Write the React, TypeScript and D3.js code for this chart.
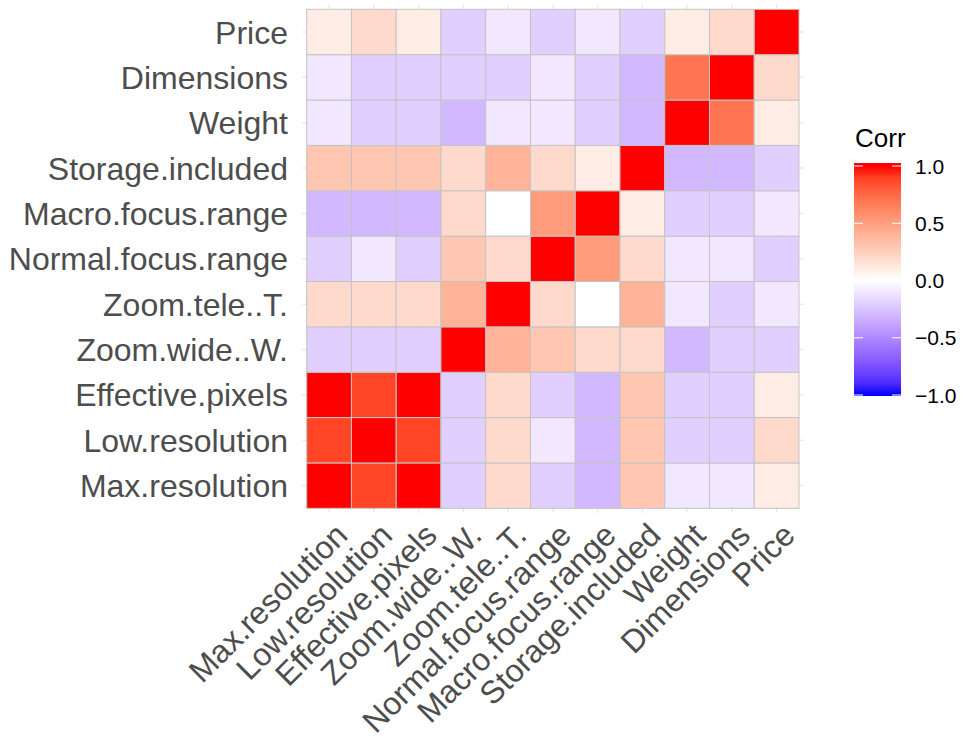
import React from "react";
import * as d3 from "d3";

const vars = [
  "Max.resolution",
  "Low.resolution",
  "Effective.pixels",
  "Zoom.wide..W.",
  "Zoom.tele..T.",
  "Normal.focus.range",
  "Macro.focus.range",
  "Storage.included",
  "Weight",
  "Dimensions",
  "Price",
];

// Correlation rows in the same order as vars (columns in same order)
const rowMax = [1, 0.88, 1, -0.2, 0.2, -0.2, -0.3, 0.3, -0.1, -0.1, 0.1];
const rowLow = [0.88, 1, 0.88, -0.2, 0.2, -0.1, -0.3, 0.3, -0.2, -0.2, 0.2];
const rowEff = [1, 0.88, 1, -0.2, 0.2, -0.2, -0.3, 0.3, -0.2, -0.2, 0.1];
const rowZoomW = [-0.2, -0.2, -0.2, 1, 0.4, 0.3, 0.2, 0.2, -0.3, -0.2, -0.2];
const rowZoomT = [0.2, 0.2, 0.2, 0.4, 1, 0.2, 0, 0.4, -0.1, -0.2, -0.1];
const rowNormal = [-0.2, -0.1, -0.2, 0.3, 0.2, 1, 0.52, 0.2, -0.1, -0.1, -0.2];
const rowMacro = [-0.3, -0.3, -0.3, 0.2, 0, 0.52, 1, 0.1, -0.2, -0.2, -0.1];
const rowStorage = [0.3, 0.3, 0.3, 0.2, 0.4, 0.2, 0.1, 1, -0.3, -0.3, -0.2];
const rowWeight = [-0.1, -0.2, -0.2, -0.3, -0.1, -0.1, -0.2, -0.3, 1, 0.7, 0.1];
const rowDim = [-0.1, -0.2, -0.2, -0.2, -0.2, -0.1, -0.2, -0.3, 0.7, 1, 0.2];
const rowPrice = [0.1, 0.2, 0.1, -0.2, -0.1, -0.2, -0.1, -0.2, 0.1, 0.2, 1];

const matrix = [
  rowMax, rowLow, rowEff, rowZoomW, rowZoomT, rowNormal,
  rowMacro, rowStorage, rowWeight, rowDim, rowPrice,
];

const legendTicks = [1, 0.5, 0, -0.5, -1];

const W = 966;
const H = 740;
const FONT = "'Liberation Sans', Arial, Helvetica, sans-serif";

export default function App() {
  const tileLeft = 306.7;
  const tileRight = 799;
  const tileTop = 9.3;
  const tileBottom = 508.3;
  const cw = (tileRight - tileLeft) / vars.length;
  const ch = (tileBottom - tileTop) / vars.length;

  const x = d3.scaleBand<string>().domain(vars).range([tileLeft, tileRight]).padding(0);
  const y = d3.scaleBand<string>().domain(vars).range([tileBottom, tileTop]).padding(0);

  const color = (v: number) =>
    v >= 0
      ? d3.interpolateLab("#FFFFFF", "#FF0000")(v)
      : d3.interpolateLab("#FFFFFF", "#0000FF")(-v);

  const cells: { r: string; c: string; v: number }[] = [];
  matrix.forEach((row, i) =>
    row.forEach((v, j) => cells.push({ r: vars[i], c: vars[j], v }))
  );

  const ext = 0.1;
  const panelL = tileLeft - ext * cw;
  const panelR = tileRight + ext * cw;
  const panelT = tileTop - ext * ch;
  const panelB = tileBottom + ext * ch;

  // Legend
  const barX = 854;
  const barW = 47;
  const barTop = 163;
  const barBot = 396;
  const ly = d3.scaleLinear().domain([-1, 1]).range([395, 166]);
  const stops = d3.range(0, 1.0001, 0.05).map((t) => -1 + 2 * t);

  return (
    <svg width={W} height={H} style={{ display: "block", background: "#fff", position: "absolute", left: 0, top: 0 }} fontFamily={FONT}>
      <defs>
        <linearGradient id="lg" x1="0" y1="1" x2="0" y2="0">
          {stops.map((s) => (
            <stop key={s} offset={(ly(s) - barBot) / (barTop - barBot)} stopColor={color(s)} />
          ))}
        </linearGradient>
      </defs>
      {/* grid lines */}
      {vars.map((v) => (
        <line key={"gx" + v} x1={x(v)! + cw / 2} x2={x(v)! + cw / 2} y1={panelT} y2={panelB}
          stroke="#EBEBEB" strokeWidth={1.5} />
      ))}
      {vars.map((v) => (
        <line key={"gy" + v} y1={y(v)! + ch / 2} y2={y(v)! + ch / 2} x1={panelL} x2={panelR}
          stroke="#EBEBEB" strokeWidth={1.5} />
      ))}
      {/* tiles */}
      {cells.map((d) => (
        <rect key={d.r + "|" + d.c} x={x(d.c)} y={y(d.r)} width={cw} height={ch}
          fill={color(d.v)} stroke="#C4C4C4" strokeWidth={1} />
      ))}
      {/* y labels */}
      {vars.map((v) => (
        <text key={"yl" + v} x={288} y={y(v)! + ch / 2} dy="0.36em" textAnchor="end"
          fontSize={32} fill="#4D4D4D">{v}</text>
      ))}
      {/* x labels */}
      {vars.map((v) => (
        <text key={"xl" + v} transform={`translate(${x(v)! + cw / 2 + 4},${panelB + 8}) rotate(-45)`}
          dy="0.72em" textAnchor="end" fontSize={32} fill="#4D4D4D">{v}</text>
      ))}
      {/* legend */}
      <text x={855} y={147} fontSize={26} fill="#000">Corr</text>
      <rect x={barX} y={barTop} width={barW} height={barBot - barTop} fill="url(#lg)" />
      {legendTicks.map((t) => (
        <g key={"lt" + t}>
          <line x1={barX} x2={barX + 9} y1={ly(t)} y2={ly(t)} stroke="#fff" strokeWidth={1} />
          <line x1={barX + barW - 9} x2={barX + barW} y1={ly(t)} y2={ly(t)} stroke="#fff" strokeWidth={1} />
          <text x={915} y={ly(t)} dy="0.36em" fontSize={21} fill="#000">
            {d3.format(".1f")(t).replace("-", "\u2212")}
          </text>
        </g>
      ))}
    </svg>
  );
}
